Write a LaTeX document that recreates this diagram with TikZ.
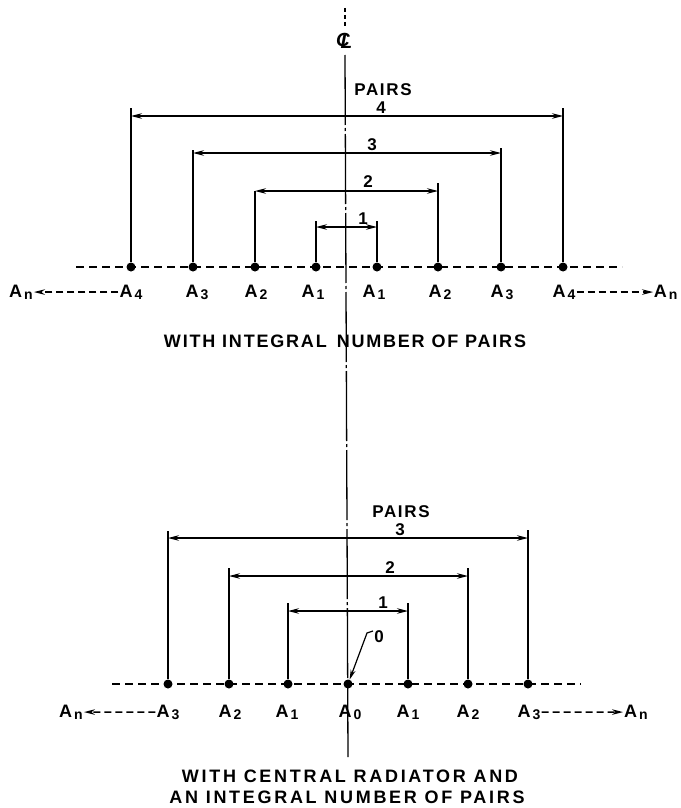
\documentclass[tikz,border=0pt]{standalone}
\usepackage{fontspec}
\setmainfont{Liberation Sans}
\newfontfamily\lett[LetterSpace=10]{Liberation Sans}
\newfontfamily\lettw[LetterSpace=15]{Liberation Sans}
\usetikzlibrary{arrows.meta}
\newcommand\Asub[1]{A\kern2pt\raisebox{-2.5pt}{\fontsize{14}{14}\selectfont #1}}
\begin{document}
\begin{tikzpicture}[x=1pt,y=-1pt,
  dot/.style={circle,fill=black,inner sep=0pt,minimum size=9pt},
  baseln/.style={line width=1.3pt,dash pattern=on 8pt off 5pt},
  ext/.style={line width=1.4pt},
  dim/.style={line width=1.2pt,{Stealth[length=11pt,width=5.5pt]}-{Stealth[length=11pt,width=5.5pt]}},
  cl/.style={line width=1.3pt,dash pattern=on 70pt off 3pt on 3pt off 3pt},
  cltop/.style={line width=1.3pt,dash pattern=on 4pt off 3pt},
  lbl/.style={inner sep=1pt,anchor=base,font=\bfseries\fontsize{18}{18}\selectfont},
  num/.style={inner sep=1pt,anchor=base,font=\lett\bfseries\fontsize{17}{17}\selectfont},
  ttl/.style={inner sep=0pt,anchor=base,font=\lett\bfseries\fontsize{18}{21}\selectfont},
  ttlw/.style={inner sep=0pt,anchor=base,font=\lettw\bfseries\fontsize{18}{21}\selectfont},
  lead/.style={line width=1.5pt,dash pattern=on 7pt off 4pt,-{Stealth[length=11pt,width=5.5pt]}},
  zlead/.style={line width=1.2pt,-{Stealth[length=10pt,width=5pt]}}]
\useasboundingbox (0,0) rectangle (680,808);
% ---------- centre line ----------
\coordinate (c0) at (345,8);
\coordinate (c1) at (345,27);
\coordinate (c2) at (345,55);
\coordinate (c3) at (348,758);
\draw[cltop] (c0) -- (c1);
\node[inner sep=0pt,font=\bfseries\itshape\fontsize{19}{19}\selectfont] (clsym) at (343,41)
  {\makebox[0pt]{C}\makebox[0pt]{\kern7pt\raisebox{-2pt}{L}}};
\draw[cl] (c2) -- (c3);
% ---------- upper figure ----------
\coordinate (tl0) at (76,267);
\coordinate (tr0) at (622,267);
\draw[baseln] (tl0) -- (tr0);
\foreach \n/\x in {1/131,2/193,3/255,4/316,5/377,6/438,7/501,8/563}
  \node[dot] (t\n) at (\x,267) {};
% extension lines
\coordinate (t1u) at (131,108); \coordinate (t8u) at (563,108);
\coordinate (t2u) at (193,150); \coordinate (t7u) at (501,148);
\coordinate (t3u) at (255,191); \coordinate (t6u) at (438,183);
\coordinate (t4u) at (316,221); \coordinate (t5u) at (377,221);
\foreach \n in {1,...,8} \draw[ext] (t\n u) -- (t\n);
% dimension lines
\coordinate (d4l) at (131,116); \coordinate (d4r) at (563,116);
\coordinate (d3l) at (193,153); \coordinate (d3r) at (501,153);
\coordinate (d2l) at (255,191); \coordinate (d2r) at (438,191);
\coordinate (d1l) at (316,227); \coordinate (d1r) at (377,227);
\draw[dim] (d4l) -- (d4r);
\draw[dim] (d3l) -- (d3r);
\draw[dim] (d2l) -- (d2r);
\draw[dim] (d1l) -- (d1r);
\node[num] (tpairs) at (383,95) {PAIRS};
\node[num] (tn4) at (381,113) {4};
\node[num] (tn3) at (372,150) {3};
\node[num] (tn2) at (368,187) {2};
\node[num] (tn1) at (363,224) {1};
% labels
\node[lbl] (tAnl) at (21,297) {\Asub{n}};
\node[lbl] (tA4l) at (131,297) {\Asub{4}};
\node[lbl] (tA3l) at (197,297) {\Asub{3}};
\node[lbl] (tA2l) at (256,297) {\Asub{2}};
\node[lbl] (tA1l) at (313,297) {\Asub{1}};
\node[lbl] (tA1r) at (374,297) {\Asub{1}};
\node[lbl] (tA2r) at (440,297) {\Asub{2}};
\node[lbl] (tA3r) at (502,297) {\Asub{3}};
\node[lbl] (tA4r) at (564,297) {\Asub{4}};
\node[lbl,inner sep=0.5pt,anchor=base east] (tAnr) at (678,297) {\Asub{n}};
\draw[lead] (tA4r.east) -- (tAnr.west);
\draw[lead] (tA4l.west) -- (tAnl.east);
\node[ttl] (ttitle) at (345,347) {WITH INTEGRAL\hspace{10pt}NUMBER OF PAIRS};
% ---------- lower figure ----------
\coordinate (bl0) at (112,684);
\coordinate (br0) at (581,684);
\draw[baseln] (bl0) -- (br0);
\foreach \n/\x in {1/168,2/229,3/288,4/348,5/408,6/468,7/528}
  \node[dot] (b\n) at (\x,684) {};
\coordinate (b1u) at (168,531); \coordinate (b7u) at (528,530);
\coordinate (b2u) at (229,568); \coordinate (b6u) at (468,568);
\coordinate (b3u) at (288,603); \coordinate (b5u) at (408,603);
\foreach \n in {1,2,3,5,6,7} \draw[ext] (b\n u) -- (b\n);
\coordinate (e3l) at (168,538); \coordinate (e3r) at (528,538);
\coordinate (e2l) at (229,576); \coordinate (e2r) at (468,576);
\coordinate (e1l) at (288,611); \coordinate (e1r) at (408,611);
\draw[dim] (e3l) -- (e3r);
\draw[dim] (e2l) -- (e2r);
\draw[dim] (e1l) -- (e1r);
\node[num] (bpairs) at (401,517) {PAIRS};
\node[num] (bn3) at (400,535) {3};
\node[num] (bn2) at (390,573) {2};
\node[num] (bn1) at (383,608) {1};
\node[num] (bzero) at (379,642) {0};
\coordinate (zh1) at (373,631);
\coordinate (zh2) at (367,633);
\draw[zlead] (zh1) -- (zh2) -- (b4);
\node[lbl] (bAnl) at (71,717) {\Asub{n}};
\node[lbl] (bA3l) at (168,717) {\Asub{3}};
\node[lbl] (bA2l) at (230,717) {\Asub{2}};
\node[lbl] (bA1l) at (287,717) {\Asub{1}};
\node[lbl] (bA0) at (350,717) {\Asub{0}};
\node[lbl] (bA1r) at (408,717) {\Asub{1}};
\node[lbl] (bA2r) at (468,717) {\Asub{2}};
\node[lbl] (bA3r) at (529,717) {\Asub{3}};
\node[lbl] (bAnr) at (636,717) {\Asub{n}};
\draw[lead] (bA3l.west) -- (bAnl.east);
\draw[lead] (bA3r.east) -- (bAnr.west);
\node[ttlw] (btitle1) at (350,782) {WITH CENTRAL RADIATOR AND};
\node[ttlw] (btitle2) at (347,803) {AN INTEGRAL NUMBER OF PAIRS};
\end{tikzpicture}
\end{document}
